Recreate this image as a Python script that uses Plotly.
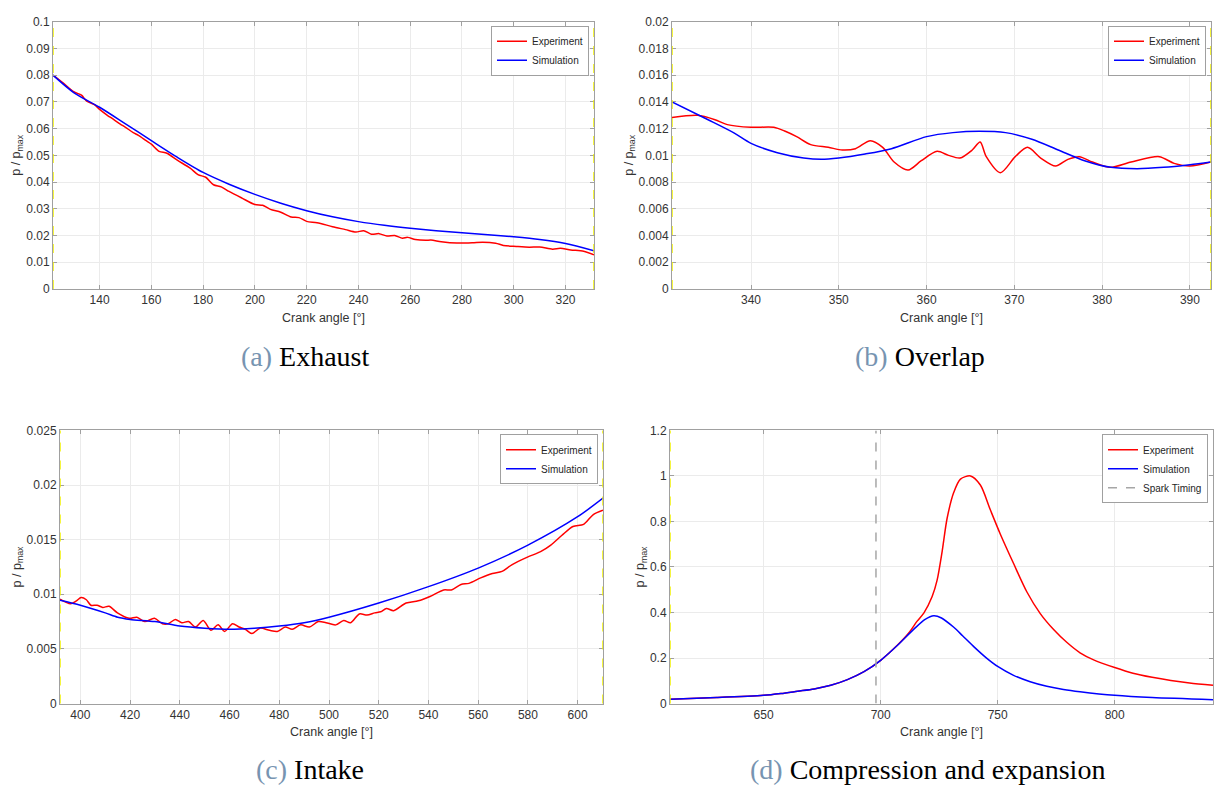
import plotly.graph_objects as go

# ---------------- data ----------------
# (a) Exhaust
a_exp_x = [122, 126, 130, 133, 135, 138, 140, 143, 145, 148, 150, 153, 155, 158, 160, 163, 166, 170, 175, 178, 181, 184, 187,
           190, 195, 200, 203, 206, 210, 214, 217, 220, 224, 230, 235, 239, 242, 245, 248, 251, 254, 257, 259, 262, 266,
           268, 272, 278, 284, 288, 293, 296, 301, 306, 310, 315, 318, 322, 327, 331]
a_exp_y = [0.0800, 0.0770, 0.0738, 0.0725, 0.0703, 0.0690, 0.0672, 0.0650, 0.0637, 0.0617, 0.0605, 0.0585, 0.0575, 0.0555,
           0.0542, 0.0515, 0.0508, 0.0482, 0.0452, 0.0428, 0.0418, 0.0390, 0.0382, 0.0365, 0.0340, 0.0316, 0.0313, 0.0298,
           0.0287, 0.0269, 0.0267, 0.0253, 0.0248, 0.0233, 0.0222, 0.0213, 0.0218, 0.0205, 0.0207, 0.0198, 0.0200, 0.0190,
           0.0193, 0.0185, 0.0182, 0.0183, 0.0177, 0.0172, 0.0173, 0.0175, 0.0171, 0.0163, 0.0159, 0.0156, 0.0157, 0.0149,
           0.0152, 0.0146, 0.0141, 0.0128]
a_sim_x = [122, 130, 140, 150, 160, 170, 180, 190, 200, 210, 220, 230, 240, 250, 260, 270, 280, 290, 300, 310, 320, 331]
a_sim_y = [0.0800, 0.0735, 0.0680, 0.0618, 0.0555, 0.0493, 0.0436, 0.0392, 0.0354, 0.0321, 0.0293, 0.0270, 0.0252, 0.0238,
           0.0227, 0.0218, 0.0210, 0.0203, 0.0195, 0.0185, 0.0170, 0.0143]
a_bounds = [122, 331]

# (b) Overlap
b_exp_x = [331.0, 333.9, 335.9, 337.3, 340.0, 342.6, 343.9, 345.2, 346.8, 348.8, 350.4, 351.9, 353.6, 355.0, 356.3, 357.9,
           359.4, 361.2, 362.5, 363.8, 365.2, 366.1, 366.8, 368.4, 370.1, 371.5, 373.0, 374.7, 376.1, 377.4, 378.9, 380.9,
           383.3, 386.5, 388.2, 390.0, 392.4]
b_exp_y = [0.01283, 0.0130, 0.01267, 0.0123, 0.0121, 0.0121, 0.0118, 0.0114, 0.0108, 0.0106, 0.0104, 0.0105, 0.0111,
           0.0106, 0.0095, 0.0089, 0.0096, 0.0103, 0.0100, 0.0098, 0.0104, 0.0110, 0.0099, 0.0087, 0.0099, 0.0106, 0.0098,
           0.0092, 0.0097, 0.0099, 0.0095, 0.0091, 0.0095, 0.0099, 0.0094, 0.0092, 0.0095]
b_sim_x = [331, 335, 338, 340, 343, 346, 348, 350, 353, 356, 360, 363, 366, 369, 372, 375, 378, 381, 384, 387, 390, 392.4]
b_sim_y = [0.0140, 0.0127, 0.0117, 0.0109, 0.0102, 0.0098, 0.0097, 0.0098, 0.0101, 0.0105, 0.0114, 0.0117, 0.0118,
           0.0117, 0.0112, 0.0104, 0.0096, 0.0091, 0.0090, 0.0091, 0.0093, 0.0095]
b_bounds = [331, 392.4]

# (c) Intake
c_exp_x = [391.8, 396, 398.4, 400.3, 402.4, 404.2, 406.7, 409, 411.5, 414.9, 419.6, 422.7, 425.9, 429.8, 433, 435.3, 438.2,
           440.8, 443.5, 446.3, 449.4, 452.5, 455.4, 458, 461.2, 463.8, 466.3, 469, 472.2, 476.1, 479.2, 482.4, 485.2,
           488.6, 492.1, 495.7, 498.8, 502.7, 505.9, 508.7, 512.2, 515.3, 518.4, 520.8, 523.1, 526, 531, 535.9, 540.6,
           546.1, 549.2, 553.1, 556.3, 561, 565.7, 569.6, 573.5, 579.8, 585.1, 589.2, 593.7, 598.1, 602.4, 606.3, 610.2]
c_exp_y = [0.00955, 0.00913, 0.0094, 0.0097, 0.0095, 0.0090, 0.0090, 0.0088, 0.0089, 0.0083, 0.0078, 0.0079, 0.0075,
           0.0078, 0.0073, 0.0073, 0.0077, 0.0074, 0.0075, 0.0070, 0.0076, 0.0067, 0.0072, 0.0066, 0.0073, 0.0070, 0.0068,
           0.0064, 0.0069, 0.0067, 0.0066, 0.0070, 0.0068, 0.0072, 0.0070, 0.0075, 0.0074, 0.0072, 0.0076, 0.0074, 0.0082,
           0.0081, 0.0083, 0.0084, 0.0087, 0.0085, 0.0092, 0.0094, 0.0098, 0.0104, 0.0104, 0.0109, 0.0110, 0.0115, 0.0119,
           0.0121, 0.0127, 0.0134, 0.0139, 0.0145, 0.0154, 0.0162, 0.0164, 0.0173, 0.0177]
c_sim_x = [391.8, 400, 410, 415, 420, 430, 440, 450, 460, 470, 480, 490, 500, 520, 540, 560, 580, 600, 610.2]
c_sim_y = [0.00945, 0.0090, 0.0083, 0.0079, 0.0077, 0.0075, 0.0071, 0.0069, 0.0068, 0.0069, 0.0071, 0.0074, 0.0079, 0.0092,
           0.0107, 0.0124, 0.0145, 0.0171, 0.0188]
c_bounds = [391.8, 610.2]

# (d) Compression and expansion
d_exp_x = [610, 630, 650, 657.4, 664.5, 671.6, 678.7, 685.8, 692.9, 700, 707.1, 712, 715.6, 718.5, 722.0, 724.1, 726.3,
           728.4, 731.25, 734.1, 738.4, 742.6, 746.9, 751.1, 756.8, 762.5, 768.2, 773.9, 779.5, 785.2, 791, 800, 807.8,
           816, 824, 832, 842]
d_exp_y = [0.019, 0.026, 0.036, 0.044, 0.054, 0.064, 0.080, 0.105, 0.140, 0.190, 0.256, 0.310, 0.362, 0.398, 0.470,
           0.541, 0.670, 0.814, 0.928, 0.986, 1.000, 0.960, 0.850, 0.745, 0.615, 0.490, 0.395, 0.325, 0.269, 0.223,
           0.192, 0.158, 0.133, 0.115, 0.101, 0.090, 0.080]
d_sim_x = [610, 630, 650, 657.4, 664.5, 671.6, 678.7, 685.8, 692.9, 700, 707.1, 714.2, 719, 722.7, 726, 731.25, 735,
           740, 745, 750, 756.8, 763.9, 771, 778.1, 785.2, 800, 816, 842]
d_sim_y = [0.019, 0.026, 0.036, 0.044, 0.054, 0.064, 0.080, 0.105, 0.140, 0.190, 0.255, 0.327, 0.370, 0.386, 0.376,
           0.335, 0.298, 0.248, 0.202, 0.163, 0.124, 0.096, 0.076, 0.062, 0.052, 0.036, 0.026, 0.017]
d_spark = 698
d_bounds = [610]

x_ranges = [[122, 331], [331, 392.4], [391.8, 610.2], [610, 842]]
y_ranges = [[0, 0.1], [0, 0.02], [0, 0.025], [0, 1.2]]
y_dticks = [0.01, 0.002, 0.005, 0.2]
x_dticks = [20, 10, 20, 50]
captions = [("(a)", "Exhaust"), ("(b)", "Overlap"), ("(c)", "Intake"), ("(d)", "Compression and expansion")]

# ---------------- layout geometry (pixels) ----------------
W, H = 1217, 796
boxes = [(53, 594, 15, 287), (672, 1211, 15, 287), (60, 603, 431, 709), (670, 1213, 431, 709)]
cap_pos = [(305, 356), (920, 356), (310, 776), (927, 776)]

RED = "#ff0000"
BLUE = "#0000ff"
AX = "#a0a0a0"
TXT = "#333333"

fig = go.Figure()
series = [(a_exp_x, a_exp_y, a_sim_x, a_sim_y), (b_exp_x, b_exp_y, b_sim_x, b_sim_y),
          (c_exp_x, c_exp_y, c_sim_x, c_sim_y), (d_exp_x, d_exp_y, d_sim_x, d_sim_y)]
bounds = [a_bounds, b_bounds, c_bounds, d_bounds]

for i, (ex, ey, sx, sy) in enumerate(series):
    n = i + 1
    xa = "x" if n == 1 else f"x{n}"
    ya = "y" if n == 1 else f"y{n}"
    lg = "legend" if n == 1 else f"legend{n}"
    fig.add_trace(go.Scatter(x=ex, y=ey, mode="lines", name="Experiment",
                             line=dict(color=RED, width=1.5, shape="spline", smoothing=0.8),
                             xaxis=xa, yaxis=ya, legend=lg))
    fig.add_trace(go.Scatter(x=sx, y=sy, mode="lines", name="Simulation",
                             line=dict(color=BLUE, width=1.5, shape="spline", smoothing=0.8),
                             xaxis=xa, yaxis=ya, legend=lg))
    if n == 4:
        fig.add_trace(go.Scatter(x=[d_spark, d_spark], y=y_ranges[3], mode="lines", name="Spark Timing",
                                 line=dict(color="#a6a6a6", width=1.5, dash="dash"), xaxis=xa, yaxis=ya, legend=lg))
    for bx in bounds[i]:
        fig.add_shape(type="line", x0=bx, x1=bx, y0=0, y1=1, xref=xa, yref=f"{ya} domain",
                      line=dict(color="#f2f200", width=1.5, dash="dash"), layer="above")

    l, r, t, b = boxes[i]
    axkw = dict(showline=True, linecolor=AX, linewidth=1, mirror="ticks", ticks="inside", ticklen=4, tickcolor=AX,
                showgrid=True, gridcolor="#ebebeb", gridwidth=1, zeroline=False,
                tickfont=dict(family="Arial", size=12, color=TXT))
    fig.layout[f"xaxis{'' if n == 1 else n}"] = dict(
        domain=[l / W, r / W], anchor=ya, range=x_ranges[i], dtick=x_dticks[i],
        title=dict(text="Crank angle [°]", font=dict(family="Arial", size=12.5, color=TXT), standoff=6), **axkw)
    fig.layout[f"yaxis{'' if n == 1 else n}"] = dict(
        domain=[1 - b / H, 1 - t / H], anchor=xa, range=y_ranges[i], dtick=y_dticks[i],
        title=dict(text="p / p<sub>max</sub>", font=dict(family="Arial", size=12.5, color=TXT), standoff=2), **axkw)
    fig.layout[lg] = dict(x=(r - 5) / W, y=1 - (t + 4) / H, xanchor="right", yanchor="top",
                          bgcolor="white", bordercolor=AX, borderwidth=1, itemwidth=30, tracegroupgap=0,
                          font=dict(family="Arial", size=10, color="#262626"))
    lab, txt = captions[i]
    cx, cy = cap_pos[i]
    fig.add_annotation(x=cx / W, y=1 - cy / H, xref="paper", yref="paper", showarrow=False,
                       xanchor="center", yanchor="middle",
                       text=f'<span style="color:#7794b1">{lab}</span> {txt}',
                       font=dict(family="Liberation Serif", size=28, color="#000000"))

fig.update_layout(width=W, height=H, margin=dict(l=0, r=0, t=0, b=0), paper_bgcolor="white",
                  plot_bgcolor="white", showlegend=True)

fig.write_html("out.html")
